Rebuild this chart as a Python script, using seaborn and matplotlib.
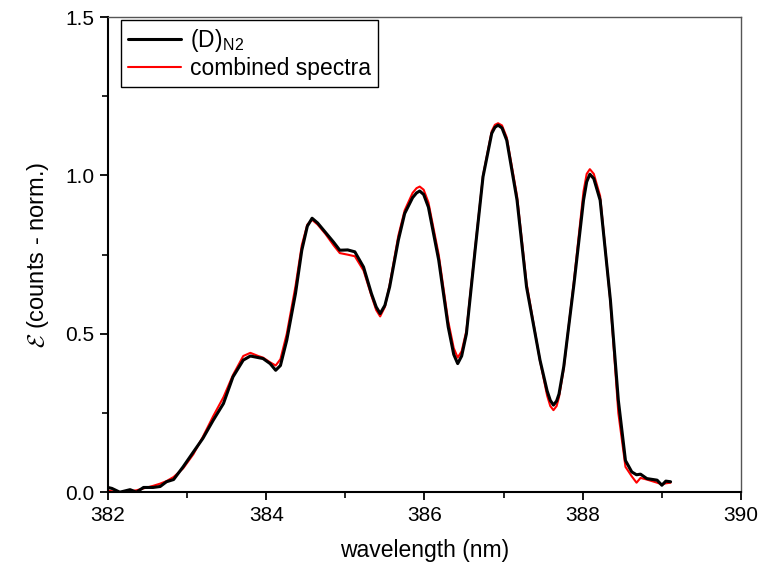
import pandas as pd
import matplotlib
matplotlib.use('Agg')
import matplotlib.pyplot as plt
import seaborn as sns
from matplotlib.ticker import MultipleLocator, FormatStrFormatter

#-------Settings
sns.set_theme(style="ticks")
plt.rcParams['font.family'] = ['Liberation Sans', 'DejaVu Sans']
plt.rcParams['mathtext.fontset'] = 'cm'
plt.rcParams['text.color'] = 'black'
plt.rcParams['axes.labelcolor'] = 'black'

#------Data
wavelength = [382.00, 382.05, 382.15, 382.28, 382.36, 382.45, 382.57, 382.66, 382.74, 382.83,
              382.95, 383.08, 383.20, 383.33, 383.46, 383.58, 383.71, 383.80, 383.90, 383.96,
              384.05, 384.12, 384.18, 384.26, 384.37, 384.45, 384.52, 384.58, 384.65, 384.75,
              384.85, 384.93, 385.03, 385.12, 385.23, 385.33, 385.39, 385.44, 385.50, 385.56,
              385.67, 385.75, 385.85, 385.90, 385.94, 385.99, 386.05, 386.18, 386.30, 386.37,
              386.42, 386.47, 386.53, 386.64, 386.74, 386.85, 386.89, 386.93, 386.98, 387.04,
              387.17, 387.29, 387.46, 387.55, 387.59, 387.63, 387.67, 387.70, 387.76, 387.89,
              388.01, 388.05, 388.09, 388.14, 388.22, 388.35, 388.45, 388.54, 388.62, 388.68,
              388.73, 388.81, 388.94, 389.00, 389.05, 389.11]

d_n2 = [0.015, 0.012, 0.000, 0.008, 0.000, 0.015, 0.015, 0.018, 0.033, 0.040,
        0.080, 0.127, 0.170, 0.227, 0.280, 0.364, 0.417, 0.430, 0.425, 0.422,
        0.406, 0.385, 0.400, 0.480, 0.627, 0.764, 0.840, 0.865, 0.850, 0.820,
        0.790, 0.764, 0.765, 0.759, 0.711, 0.627, 0.585, 0.564, 0.590, 0.648,
        0.796, 0.880, 0.930, 0.945, 0.951, 0.940, 0.900, 0.733, 0.522, 0.435,
        0.406, 0.430, 0.500, 0.764, 0.996, 1.133, 1.152, 1.159, 1.150, 1.111,
        0.922, 0.648, 0.417, 0.320, 0.290, 0.275, 0.288, 0.310, 0.396, 0.659,
        0.922, 0.980, 1.004, 0.990, 0.922, 0.606, 0.290, 0.100, 0.064, 0.055,
        0.057, 0.043, 0.038, 0.022, 0.035, 0.033]

combined = [0.005, 0.003, 0.000, 0.003, 0.006, 0.012, 0.020, 0.027, 0.035, 0.048,
            0.075, 0.120, 0.175, 0.240, 0.300, 0.370, 0.430, 0.440, 0.430, 0.425,
            0.410, 0.400, 0.420, 0.500, 0.650, 0.780, 0.845, 0.860, 0.845, 0.815,
            0.780, 0.755, 0.750, 0.745, 0.700, 0.620, 0.575, 0.555, 0.585, 0.655,
            0.810, 0.890, 0.945, 0.960, 0.965, 0.955, 0.915, 0.750, 0.540, 0.455,
            0.425, 0.445, 0.510, 0.770, 1.000, 1.140, 1.160, 1.165, 1.158, 1.120,
            0.935, 0.660, 0.415, 0.305, 0.272, 0.259, 0.272, 0.300, 0.390, 0.670,
            0.950, 1.005, 1.020, 1.005, 0.935, 0.600, 0.250, 0.080, 0.050, 0.030,
            0.045, 0.040, 0.030, 0.025, 0.028, 0.030]

df = pd.DataFrame({'wavelength': wavelength, 'D_N2': d_n2, 'combined': combined})

#------Plot
fig = plt.figure(figsize=(7.6, 5.71), dpi=100)
ax = fig.add_axes([0.142, 0.138, 0.833, 0.832])

sns.lineplot(data=df, x='wavelength', y='combined', ax=ax, color='#ff0000', linewidth=1.5,
             label='combined spectra', zorder=2, solid_joinstyle='round')
sns.lineplot(data=df, x='wavelength', y='D_N2', ax=ax, color='black', linewidth=2.2,
             label=r'(D)$_{\mathregular{N2}}$', zorder=3, solid_joinstyle='round')

ax.set_xlim(382, 390)
ax.set_ylim(0, 1.5)
ax.xaxis.set_major_locator(MultipleLocator(2))
ax.xaxis.set_minor_locator(MultipleLocator(1))
ax.yaxis.set_major_locator(MultipleLocator(0.5))
ax.yaxis.set_minor_locator(MultipleLocator(0.25))
ax.yaxis.set_major_formatter(FormatStrFormatter('%.1f'))

ax.tick_params(which='major', direction='out', length=6, width=1.3, labelsize=15,
               colors='black', pad=4)
ax.tick_params(which='minor', direction='out', length=4, width=1.2, colors='black')
ax.tick_params(top=False, right=False, which='both')

for s in ['left', 'bottom']:
    ax.spines[s].set_linewidth(1.5)
    ax.spines[s].set_color('black')
for s in ['top', 'right']:
    ax.spines[s].set_linewidth(1.0)
    ax.spines[s].set_color('#555555')

ax.set_xlabel('wavelength (nm)', fontsize=16.5, labelpad=10)
ax.set_ylabel(r'$\mathcal{E}$ (counts - norm.)', fontsize=17, labelpad=10)

# legend: black entry first
handles, labels = ax.get_legend_handles_labels()
leg = ax.legend(handles[::-1], labels[::-1], loc='upper left',
                bbox_to_anchor=(13 / 633, 1 - 3 / 475), borderaxespad=0,
                fontsize=16.5, frameon=True, fancybox=False, edgecolor='black',
                framealpha=1, handlelength=2.3, handletextpad=0.4,
                borderpad=0.3, labelspacing=0.15)
leg.get_frame().set_linewidth(1.0)

fig.savefig('out.png', dpi=100)
plt.close()
